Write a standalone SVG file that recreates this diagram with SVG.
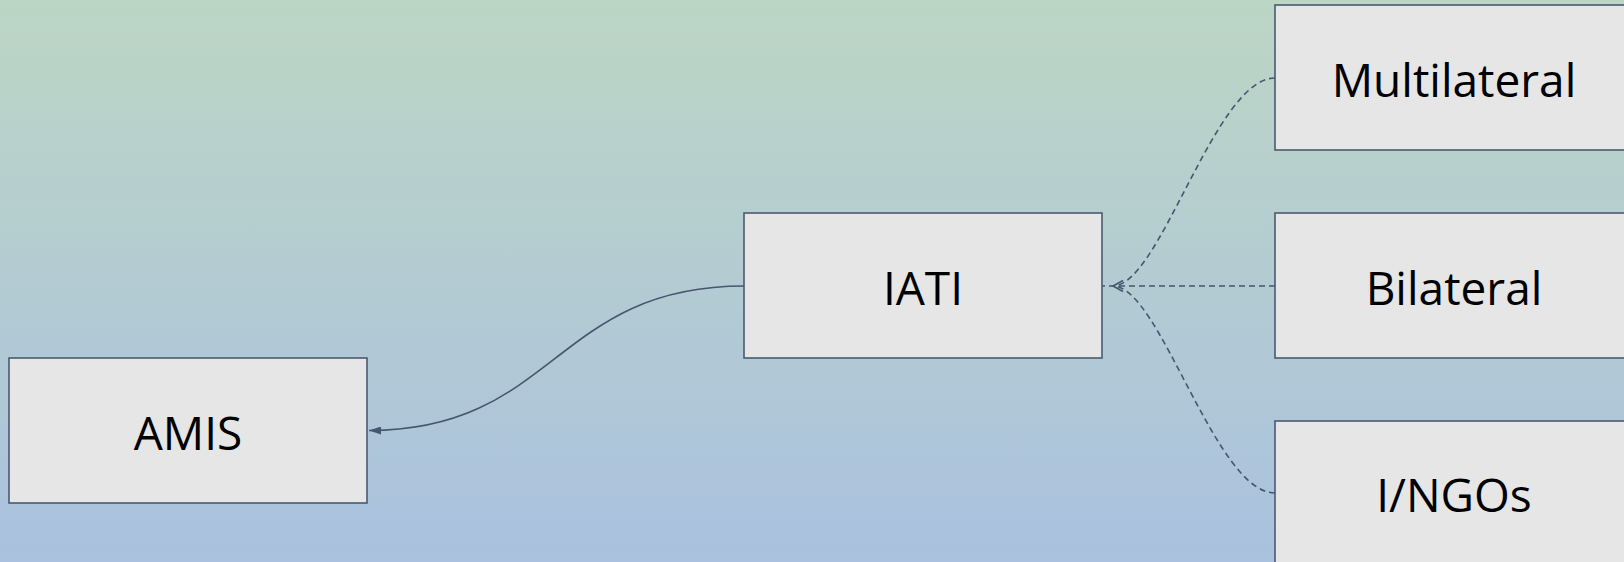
<svg xmlns="http://www.w3.org/2000/svg" width="1624" height="562" viewBox="0 0 1624 562">
<defs>
<linearGradient id="bg" x1="0" y1="0" x2="0" y2="1">
<stop offset="0" stop-color="#bcd6c5"/>
<stop offset="1" stop-color="#aac1df"/>
</linearGradient>
<marker id="arr" viewBox="0 0 12 8" refX="12" refY="4" markerWidth="12" markerHeight="8" markerUnits="userSpaceOnUse" orient="auto">
<path d="M0,0 L12,4 L0,8 Z" fill="#45566e"/>
</marker>
</defs>
<style>
.box{fill:#e6e6e6;stroke:#4a5a70;stroke-width:1.6}
.lbl{font-family:"Open Sans","Liberation Sans",sans-serif;font-size:46px;fill:#000;text-anchor:middle}
.solid{fill:none;stroke:#45566e;stroke-width:1.6}
.dash{fill:none;stroke:#45566e;stroke-width:1.6;stroke-dasharray:6 4}
</style>
<rect x="0" y="0" width="1624" height="562" fill="url(#bg)"/>
<g id="connectors">
<path class="solid" d="M744,286 C555,286 555,430.5 369,430.5" marker-end="url(#arr)"/>
<path class="dash" d="M1275,78 C1215,78 1160,286 1113,286"/>
<path class="dash" d="M1275,286 L1102,286"/>
<path class="dash" d="M1275,493 C1215,493 1160,286 1113,286"/>
<path class="solid" d="M1123,280.5 L1113,286 L1123,291.5"/>
</g>
<g id="node-amis">
<rect class="box" x="9" y="358" width="358" height="145"/>
<text class="lbl" x="188" y="450">AMIS</text>
</g>
<g id="node-iati">
<rect class="box" x="744" y="213" width="358" height="145"/>
<text class="lbl" x="923" y="305">IATI</text>
</g>
<g id="node-multilateral">
<rect class="box" x="1275" y="5" width="358" height="145"/>
<text class="lbl" x="1454" y="97">Multilateral</text>
</g>
<g id="node-bilateral">
<rect class="box" x="1275" y="213" width="358" height="145"/>
<text class="lbl" x="1454" y="305">Bilateral</text>
</g>
<g id="node-ingos">
<rect class="box" x="1275" y="421" width="358" height="145"/>
<text class="lbl" x="1454" y="512">I/NGOs</text>
</g>
</svg>
